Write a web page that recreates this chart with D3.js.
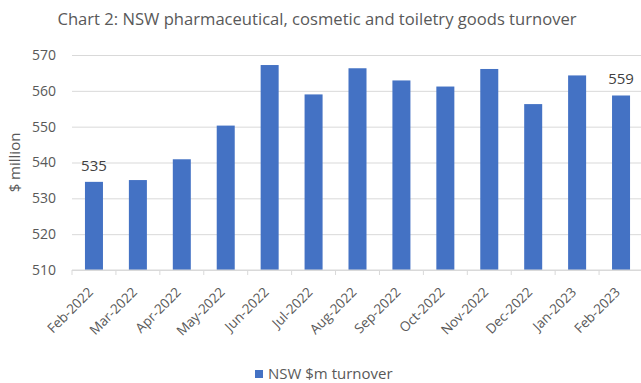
<!DOCTYPE html>
<html>
<head>
<meta charset="utf-8">
<script src="https://cdn.jsdelivr.net/npm/d3@7"></script>
<style>
  html, body { margin: 0; padding: 0; background: #fff; }
  svg { display: block; font-family: "Open Sans", "Liberation Sans", sans-serif; }
</style>
</head>
<body>
<svg id="chart" width="641" height="383"></svg>
<script>
// Monthly NSW pharmaceutical, cosmetic and toiletry goods turnover ($m)
const months = ["Feb-2022", "Mar-2022", "Apr-2022", "May-2022", "Jun-2022", "Jul-2022",
  "Aug-2022", "Sep-2022", "Oct-2022", "Nov-2022", "Dec-2022", "Jan-2023", "Feb-2023"];
const turnover = [534.6, 535.1, 540.9, 550.3, 567.2, 559.0, 566.3, 562.9, 561.2, 566.1, 556.3, 564.3, 558.7];
const yTicks = [510, 520, 530, 540, 550, 560, 570];
const labelledMonths = ["Feb-2022", "Feb-2023"];
const seriesName = "NSW $m turnover";
const title = "Chart 2: NSW pharmaceutical, cosmetic and toiletry goods turnover";

const svg = d3.select("#chart");
const plot = { left: 72, right: 643, top: 55, bottom: 270 };
const textColor = "#595959";

const x = d3.scaleBand().domain(months).range([plot.left, plot.right]).paddingInner(0.59).paddingOuter(0.295);
const y = d3.scaleLinear().domain([510, 570]).range([plot.bottom, plot.top]);

// Title
svg.append("text")
  .attr("x", 317).attr("y", 25)
  .attr("text-anchor", "middle")
  .attr("font-size", 16.6)
  .attr("fill", textColor)
  .text(title);

// Horizontal gridlines and y tick labels
const yAxis = d3.axisLeft(y).tickValues(yTicks).tickSize(-(plot.right - plot.left)).tickPadding(16);
const gy = svg.append("g").attr("transform", `translate(${plot.left},0)`).call(yAxis);
gy.select(".domain").remove();
gy.selectAll(".tick line").attr("stroke", "#d9d9d9").attr("stroke-width", 1);
gy.selectAll(".tick text").attr("fill", textColor).attr("font-size", 14)
  .attr("font-family", "'Open Sans', sans-serif");

// Y axis title
svg.append("text")
  .attr("transform", `translate(20,${(plot.top + plot.bottom) / 2}) rotate(-90)`)
  .attr("text-anchor", "middle")
  .attr("font-size", 15)
  .attr("fill", textColor)
  .text("$ million");

// Bars
const rows = months.map((m, i) => ({ m, v: turnover[i] }));
svg.append("g").selectAll("rect")
  .data(rows)
  .join("rect")
  .attr("x", d => x(d.m))
  .attr("width", x.bandwidth())
  .attr("y", d => y(d.v))
  .attr("height", d => y(510) - y(d.v))
  .attr("fill", "#4472c4");

// Value labels on first and last month
const fmt = d3.format(".0f");
svg.append("g").selectAll("text")
  .data(rows.filter(d => labelledMonths.includes(d.m)))
  .join("text")
  .attr("x", d => x(d.m) + x.bandwidth() / 2)
  .attr("y", d => y(d.v) - 11)
  .attr("text-anchor", "middle")
  .attr("font-size", 15)
  .attr("fill", "#404040")
  .text(d => fmt(d.v));

// X axis with category separator ticks
const gx = svg.append("g").attr("transform", `translate(0,${plot.bottom})`);
gx.append("line").attr("x1", plot.left).attr("x2", plot.right).attr("stroke", "#d9d9d9");
const step = x.step();
gx.selectAll("line.sep")
  .data(d3.range(months.length + 1))
  .join("line")
  .attr("class", "sep")
  .attr("x1", i => plot.left + i * step).attr("x2", i => plot.left + i * step)
  .attr("y1", 0).attr("y2", 5)
  .attr("stroke", "#d9d9d9");
gx.selectAll("text")
  .data(months)
  .join("text")
  .attr("transform", m => `translate(${x(m) + x.bandwidth() / 2},23) rotate(-45)`)
  .attr("text-anchor", "end")
  .attr("font-size", 13.5)
  .attr("fill", textColor)
  .text(m => m);

// Legend
const lg = svg.append("g").attr("transform", "translate(255,370)");
lg.append("rect").attr("width", 8).attr("height", 8).attr("fill", "#4472c4");
lg.append("text").attr("x", 13).attr("y", 9)
  .attr("font-size", 15).attr("fill", textColor).text(seriesName);
</script>
</body>
</html>
